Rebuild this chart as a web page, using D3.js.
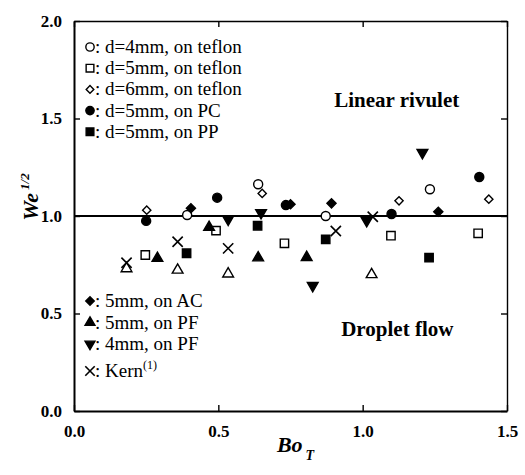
<!DOCTYPE html>
<html>
  <head>
    <meta charset="UTF-8" />
    <title>We 1/2 vs Bo_T</title>
    <style>
      body { margin: 0; background: #fff; }
    </style>
  </head>
  <body>
    <svg width="525" height="475"></svg>
    <script src="https://cdnjs.cloudflare.com/ajax/libs/d3/7.8.5/d3.min.js"></script>
    <script>
      // data: [Bo_T, We^1/2]
      const teflon4mm = [[0.392, 1.005], [0.638, 1.163], [0.872, 1.0], [1.233, 1.137]];
      const teflon5mm = [[0.247, 0.8], [0.492, 0.925], [0.729, 0.86], [1.098, 0.899], [1.4, 0.911]];
      const teflon6mm = [[0.252, 1.03], [0.652, 1.116], [1.126, 1.078], [1.437, 1.086]];
      const pc5mm = [[0.25, 0.975], [0.496, 1.094], [0.734, 1.056], [1.1, 1.01], [1.404, 1.2]];
      const pp5mm = [[0.39, 0.809], [0.636, 0.95], [0.872, 0.88], [1.23, 0.786]];
      const ac5mm = [[0.405, 1.04], [0.75, 1.06], [0.892, 1.065], [1.262, 1.022]];
      const pf5mm = [[0.289, 0.783], [0.468, 0.942], [0.638, 0.786], [0.806, 0.788]];
      const pf4mm = [[0.534, 0.983], [0.648, 1.017], [0.827, 0.643], [1.014, 0.976], [1.207, 1.325]];
      const kern = [[0.182, 0.76], [0.359, 0.868], [0.534, 0.834], [0.907, 0.923], [1.035, 0.996]];
      const openTri = [[0.182, 0.73], [0.359, 0.723], [0.534, 0.703], [1.031, 0.7]];

      const xTicks = [0, 0.5, 1.0, 1.5];
      const yTicks = [0, 0.5, 1.0, 1.5, 2.0];

      const topLegend = [
        ['circle', ': d=4mm, on teflon'],
        ['square', ': d=5mm, on teflon'],
        ['diamond', ': d=6mm, on teflon'],
        ['circleF', ': d=5mm, on PC'],
        ['squareF', ': d=5mm, on PP'],
      ];
      const bottomLegend = [
        ['diamondF', ': 5mm, on AC'],
        ['triF', ': 5mm, on PF'],
        ['triDownF', ': 4mm, on PF'],
      ];

      const series = [
        { pts: teflon4mm, shape: 'circle' },
        { pts: teflon5mm, shape: 'square' },
        { pts: teflon6mm, shape: 'diamond' },
        { pts: openTri, shape: 'tri' },
        { pts: kern, shape: 'cross' },
        { pts: pp5mm, shape: 'squareF' },
        { pts: pf5mm, shape: 'triF' },
        { pts: pf4mm, shape: 'triDownF' },
        { pts: pc5mm, shape: 'circleF' },
        { pts: ac5mm, shape: 'diamondF' },
      ];

      const serif = "'Liberation Serif', 'Times New Roman', Times, 'DejaVu Serif', serif";

      const svg = d3.select('svg');
      const margin = { top: 21, right: 18, bottom: 64, left: 74 };
      const width = +svg.attr('width');
      const height = +svg.attr('height');
      const innerWidth = width - margin.left - margin.right;
      const innerHeight = height - margin.top - margin.bottom;

      const xScale = d3.scaleLinear().domain([0, 1.5]).range([0, innerWidth]);
      const yScale = d3.scaleLinear().domain([0, 2]).range([innerHeight, 0]);

      const g = svg.append('g').attr('transform', `translate(${margin.left},${margin.top})`);

      // symbol drawing
      const symbolTimes = d3.symbolTimes || d3.symbolX;
      const drawMark = (sel, shape, s) => {
        const k = s || 1;
        const filled = shape.endsWith('F');
        const base = filled ? shape.slice(0, -1) : shape;
        let type, size, rot = 0;
        if (base === 'circle') { type = d3.symbolCircle; size = 64 * k; }
        else if (base === 'square') { type = d3.symbolSquare; size = 70 * k; }
        else if (base === 'diamond') { type = d3.symbolSquare; size = (filled ? 42 : 34) * k; rot = 45; }
        else if (base === 'tri') { type = d3.symbolTriangle; size = 50 * k; }
        else if (base === 'triDown') { type = d3.symbolTriangle; size = 50 * k; rot = 180; }
        else { type = symbolTimes; size = 70 * k; }
        sel.append('path')
          .attr('d', d3.symbol().type(type).size(size))
          .attr('transform', rot ? `rotate(${rot})` : null)
          .attr('fill', filled ? '#000' : '#fff')
          .attr('stroke', '#000')
          .attr('stroke-width', base === 'cross' ? 1.6 : 1.4);
      };

      // reference line We^1/2 = 1
      g.append('line')
        .attr('x1', 0)
        .attr('x2', innerWidth)
        .attr('y1', yScale(1))
        .attr('y2', yScale(1))
        .attr('stroke', '#000')
        .attr('stroke-width', 2.2);

      // points
      series.forEach((s) => {
        s.pts.forEach((p) => {
          const m = g.append('g').attr('transform', `translate(${xScale(p[0])},${yScale(p[1])})`);
          drawMark(m, s.shape);
        });
      });

      // axes with inward ticks
      const tickFmt = d3.format('.1f');
      const xAxisG = g.append('g')
        .attr('transform', `translate(0,${innerHeight})`)
        .call(d3.axisBottom(xScale).tickValues(xTicks).tickFormat(tickFmt).tickSizeInner(-6).tickSizeOuter(0).tickPadding(14));
      const xTopG = g.append('g')
        .call(d3.axisTop(xScale).tickValues(xTicks).tickFormat('').tickSizeInner(-6).tickSizeOuter(0));
      const yAxisG = g.append('g')
        .call(d3.axisLeft(yScale).tickValues(yTicks).tickFormat(tickFmt).tickSizeInner(-6).tickSizeOuter(0).tickPadding(12));
      const yRightG = g.append('g')
        .attr('transform', `translate(${innerWidth},0)`)
        .call(d3.axisRight(yScale).tickValues(yTicks).tickFormat('').tickSizeInner(-6).tickSizeOuter(0));

      [xAxisG, xTopG, yAxisG, yRightG].forEach((a) => {
        a.selectAll('.domain').attr('stroke', '#000').attr('stroke-width', 1.4);
        a.selectAll('.tick line').attr('stroke', '#000').attr('stroke-width', 1.4);
      });
      [xAxisG, yAxisG].forEach((a) => {
        a.attr('font-family', null);
        a.selectAll('.tick text')
          .style('font-family', serif)
          .style('font-weight', 'bold')
          .style('font-size', '17px')
          .attr('fill', '#000');
      });
      yAxisG.select('.domain').attr('stroke-width', 2);
      xAxisG.select('.domain').attr('stroke-width', 2);

      // axis titles
      const xLabel = svg.append('text')
        .attr('x', margin.left + xScale(0.75) + 5)
        .attr('y', 452)
        .attr('text-anchor', 'middle')
        .style('font-family', serif)
        .style('font-weight', 'bold')
        .style('font-style', 'italic')
        .style('font-size', '22px');
      xLabel.append('tspan').text('Bo');
      xLabel.append('tspan').style('font-size', '14px').attr('dy', 8).attr('dx', 3).text('T');

      const yLabel = svg.append('text')
        .attr('transform', `translate(38,197) rotate(-90)`)
        .attr('text-anchor', 'middle')
        .style('font-family', serif)
        .style('font-weight', 'bold')
        .style('font-style', 'italic')
        .style('font-size', '22px');
      yLabel.append('tspan').text('We');
      yLabel.append('tspan').style('font-size', '13px').attr('dy', -9).attr('dx', 3).text('1/2');

      // annotations
      const note = (label, xv, yv) => g.append('text')
        .attr('x', xScale(xv))
        .attr('y', yScale(yv))
        .attr('text-anchor', 'middle')
        .style('font-family', serif)
        .style('font-weight', 'bold')
        .style('font-size', '21px')
        .text(label);
      note('Linear rivulet', 1.118, 1.56);
      note('Droplet flow', 1.12, 0.385);

      // legends
      const legendRow = (shape, label, y, sup) => {
        const row = svg.append('g').attr('transform', `translate(90,${y})`);
        const m = row.append('g').attr('transform', 'translate(0,-6)');
        drawMark(m, shape, 0.85);
        const t = row.append('text')
          .attr('x', 5)
          .style('font-family', serif)
          .style('font-size', '19px')
          .text(label);
        if (sup) t.append('tspan').style('font-size', '12px').attr('dy', -8).text(sup);
      };
      topLegend.forEach((d, i) => legendRow(d[0], d[1], 53 + i * 21.2));
      bottomLegend.forEach((d, i) => legendRow(d[0], d[1], 307 + i * 21.5));
      legendRow('cross', ': Kern', 377, '(1)');
    </script>
  </body>
</html>
